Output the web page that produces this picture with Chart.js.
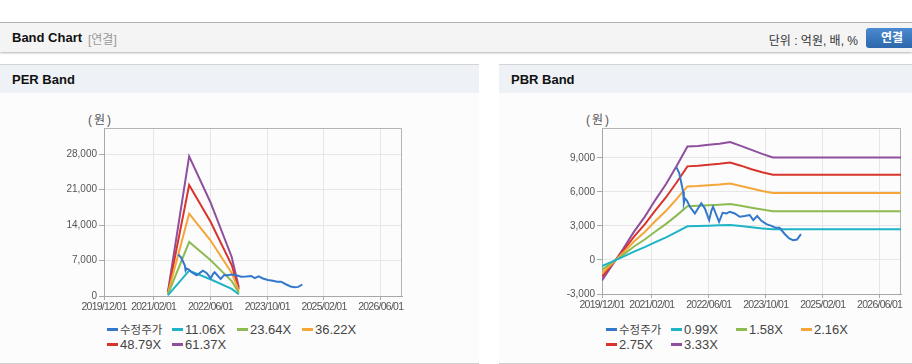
<!DOCTYPE html>
<html><head><meta charset="utf-8">
<script src="https://cdn.jsdelivr.net/npm/chart.js@4/dist/chart.umd.min.js"></script>
<style>
body{margin:0;width:912px;height:364px;overflow:hidden;background:#fff;font-family:"Liberation Sans","Noto Sans CJK KR",Arial,sans-serif;position:relative}
.hline{position:absolute;left:0;top:22px;width:912px;height:1px;background:#b4b4b4}
.hdr{position:absolute;left:0;top:23px;width:912px;height:29px;background:#f4f4f4;box-shadow:0 1px 2px rgba(0,0,0,0.3)}
.hdr .t{position:absolute;left:12px;top:7px;font-weight:bold;font-size:13px;color:#111}
.hdr .s{position:absolute;left:88px;top:7px;font-size:12px;color:#999}
.hdr .u{position:absolute;right:54px;top:8px;font-size:12px;color:#333}
.btn{position:absolute;left:866px;top:5px;width:52px;height:20px;border-radius:3px;background:linear-gradient(#4a8ad0,#2d67ac);color:#fff;font-weight:bold;font-size:12px;text-align:center;line-height:20px}
.panel{position:absolute;top:64px;height:298px;border-top:1px solid #d4d4d4;border-bottom:1px solid #cfcfcf;background:#fcfcfc}
.ptitle{height:28px;background:#eef1f6;font-weight:bold;font-size:13px;color:#111;padding-left:12px;line-height:30px}
.unit{position:absolute;top:110px;font-size:12px;color:#555;letter-spacing:2px}
canvas{position:absolute;top:93px}
.legend{position:absolute;top:323px;display:grid;grid-template-columns:65px 65px 65px 65px;font-size:13px;color:#444;line-height:13.5px}
.legend div{white-space:nowrap}
.legend i{display:inline-block;width:11px;height:3px;vertical-align:middle;margin-right:2px;margin-top:-2px}
.legend .ko{font-size:11.5px}
</style>
</head><body>
<div class="hline"></div>
<div class="hdr"><span class="t">Band Chart</span><span class="s">[연결]</span><span class="u">단위 : 억원, 배, %</span><div class="btn">연결</div></div>
<div class="panel" style="left:0;width:479px"><div class="ptitle">PER Band</div></div>
<div class="panel" style="left:499px;width:413px"><div class="ptitle">PBR Band</div></div>
<div class="unit" style="left:88px">(원)</div>
<div class="unit" style="left:586px">(원)</div>
<canvas id="per" width="479" height="222" style="left:0"></canvas>
<canvas id="pbr" width="413" height="222" style="left:499px"></canvas>
<div class="legend" id="perLegend" style="left:107px"></div>
<div class="legend" id="pbrLegend" style="left:606px"></div>
<script>
// ---------- DATA ----------
const xTickDates = ['2019/12/01','2021/02/01','2022/06/01','2023/10/01','2025/02/01','2026/06/01'];
const xStart = '2019/12/01', xEnd = '2026/12/01';
const perYTicks = [0, 7000, 14000, 21000, 28000];
const pbrYTicks = [-3000, 0, 3000, 6000, 9000];

const priceLabel = '수정주가';
const priceDates = ['2021/08/28','2021/09/22','2021/10/10','2021/10/25','2021/11/01','2021/11/10','2021/11/28','2021/12/22','2022/02/04','2022/03/28','2022/04/28','2022/06/04','2022/06/25','2022/07/07','2022/08/28','2022/09/28','2022/11/01','2022/11/28','2023/01/10','2023/02/22','2023/04/04','2023/05/16','2023/06/16','2023/07/19','2023/08/25','2023/10/07','2023/11/19','2023/12/25','2024/01/28','2024/03/13','2024/04/19','2024/05/22','2024/06/25','2024/07/28'];
const priceValues = [8180,7650,6760,6020,5045,5430,5220,4690,4100,4990,4550,3510,4400,4690,3360,4160,4100,4250,4100,3810,3870,3960,3510,3870,3450,3160,3010,2830,2830,2270,1890,1740,1800,2270];

const perBandDates = ['2021/06/01','2021/12/01','2022/06/01','2022/12/01','2023/02/01'];
const perLabels = ['11.06X','23.64X','36.22X','48.79X','61.37X'];
const per1106 = [130, 5000, 3300, 1400, 330];
const per2364 = [290, 10650, 7100, 2950, 650];
const per3622 = [440, 16250, 11000, 4550, 1000];
const per4879 = [600, 21900, 14700, 6100, 1350];
const per6137 = [750, 27550, 18500, 7700, 1700];

const pbrBandDates = ['2019/12/01','2020/03/01','2020/06/01','2020/09/01','2020/12/01','2021/03/01','2021/06/01','2021/09/01','2021/12/01','2022/03/01','2022/06/01','2022/09/01','2022/12/01','2023/03/01','2023/06/01','2023/09/01','2023/12/01','2026/12/01'];
const pbrLabels = ['0.99X','1.58X','2.16X','2.75X','3.33X'];
const pbr099 = [-530,-120,300,740,1130,1570,1990,2470,2970,2990,3020,3050,3090,2990,2880,2780,2700,2700];
const pbr158 = [-850,-190,470,1190,1800,2510,3180,3930,4740,4770,4820,4870,4930,4770,4600,4440,4300,4300];
const pbr216 = [-1170,-260,650,1620,2460,3430,4340,5380,6480,6520,6590,6650,6740,6520,6290,6070,5900,5900];
const pbr275 = [-1490,-330,830,2060,3140,4370,5530,6850,8250,8300,8390,8470,8580,8310,8000,7730,7520,7520];
const pbr333 = [-1800,-400,1000,2500,3800,5300,6700,8300,10000,10050,10150,10250,10390,10050,9700,9350,9030,9030];

// ---------- STYLE ----------
const priceColor = '#3478cc';
const bandColors = ['#1fb3c6','#8dbb52','#f4a638','#d9342c','#8e4f9d'];

function toMonth(s){const [y,m,d]=s.split('/').map(Number);return (y-2019)*12+(m-12)+(d-1)/30.4;}
function pts(dates, vals){return dates.map((d,i)=>({x:toMonth(d),y:vals[i]}));}

Chart.defaults.font.family = '"Liberation Sans", Arial, sans-serif';
Chart.defaults.font.size = 10;
Chart.defaults.color = '#555';

const frame = {id:'frame', beforeDatasetsDraw(c){const a=c.chartArea,x=c.ctx;x.save();x.strokeStyle='#b4b4b4';x.lineWidth=1;x.beginPath();x.moveTo(Math.round(a.left)+0.5,Math.round(a.top)+0.5);x.lineTo(Math.round(a.right)-0.5,Math.round(a.top)+0.5);x.lineTo(Math.round(a.right)-0.5,Math.round(a.bottom));x.stroke();x.restore();}};

function narrowLabels(s){
  if(s._narrowed) return; s._narrowed=true;
  const orig=s.drawLabels.bind(s);
  s.drawLabels=(ca)=>{const c=s.ctx;c.save();c.letterSpacing='-0.75px';orig(ca);c.restore();};
}

function makeChart(id, legendId, bandDates, bandSeries, bandLabels, yTicks, yMin, yMax, pad){
  const datasets=[{label:priceLabel,data:pts(priceDates,priceValues),borderColor:priceColor}];
  bandSeries.forEach((s,i)=>datasets.push({label:bandLabels[i],data:pts(bandDates,s),borderColor:bandColors[i]}));
  datasets.forEach(d=>{d.borderWidth=2;d.pointRadius=0;d.fill=false;d.tension=0;});
  const chart=new Chart(document.getElementById(id),{type:'line',data:{datasets},plugins:[frame],
    options:{responsive:false,animation:false,events:[],layout:{padding:pad},
      plugins:{legend:{display:false},tooltip:{enabled:false}},
      scales:{
        x:{type:'linear',min:toMonth(xStart),max:toMonth(xEnd),
          afterBuildTicks:s=>{s.ticks=xTickDates.map(d=>({value:toMonth(d)}));},
          afterFit:s=>{s.height=19;s.paddingLeft=0;s.paddingRight=0;narrowLabels(s);},
          ticks:{autoSkip:false,maxRotation:0,padding:1,font:{size:10.5},callback:(v,i)=>xTickDates[i]},
          grid:{color:'#e6e6e6',tickColor:'#aaa',tickLength:4},border:{color:'#a8a8a8'}},
        y:{min:yMin,max:yMax,
          afterBuildTicks:s=>{s.ticks=yTicks.map(v=>({value:v}));},
          afterFit:s=>{s.width=pad.yw;s.paddingTop=0;s.paddingBottom=0;},
          ticks:{padding:2,callback:v=>v.toLocaleString('en-US')},
          grid:{color:'#e6e6e6',tickColor:'#aaa',tickLength:5},border:{color:'#a8a8a8'}}
      }}});
  const lg=document.getElementById(legendId);
  chart.data.datasets.forEach(d=>{const e=document.createElement('div');const i=document.createElement('i');i.style.background=d.borderColor;e.appendChild(i);const t=document.createElement('span');t.textContent=d.label;if(/[가-힣]/.test(d.label))t.className='ko';e.appendChild(t);lg.appendChild(e);});
  return chart;
}

makeChart('per','perLegend',perBandDates,[per1106,per2364,per3622,per4879,per6137],perLabels,perYTicks,0,33150,{top:35,right:77,left:0,bottom:0,yw:104});
makeChart('pbr','pbrLegend',pbrBandDates,[pbr099,pbr158,pbr216,pbr275,pbr333],pbrLabels,pbrYTicks,-3000,11630,{top:35,right:11,left:0,bottom:2,yw:103});
</script>
</body></html>
